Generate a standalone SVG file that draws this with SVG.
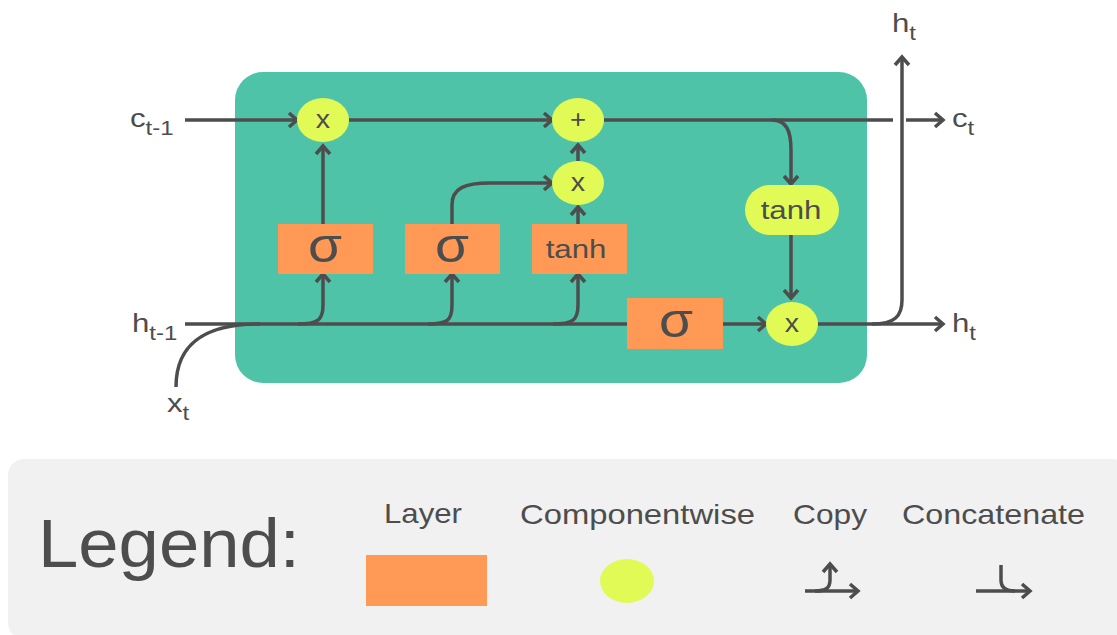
<svg xmlns="http://www.w3.org/2000/svg" width="1117" height="635" viewBox="0 0 1117 635">
<style>
.ln{fill:none;stroke:#4d4d4d;stroke-width:3.5;stroke-linecap:butt}
.arr{marker-end:url(#ah)}
.lay{fill:#ff9955}
.cw{fill:#e2fa55}
.t{font-family:"Liberation Sans",Arial,sans-serif;fill:#4d4d4d}
</style>
<defs>
<marker id="ah" markerUnits="userSpaceOnUse" markerWidth="16" markerHeight="18" refX="12" refY="9" orient="auto">
<path d="M4,2 L12,9 L4,16" fill="none" stroke="#4d4d4d" stroke-width="3.5"/>
</marker>
</defs>
<rect width="1117" height="635" fill="#ffffff"/>
<rect id="cell" x="235" y="72" width="632" height="311" rx="28" fill="#4fc3a8"/>
<rect id="legend-bg" x="8" y="459" width="1120" height="180" rx="16" fill="#f1f1f1"/>

<g id="connectors">
<path class="ln arr" d="M185,120 H297"/>
<path class="ln arr" d="M349,120 H552"/>
<path class="ln" d="M604,120 H893"/>
<path class="ln arr" d="M906,120 H943"/>
<path class="ln arr" d="M772,120 C786,120 791,130 791,150 V184"/>
<path class="ln arr" d="M791,235 V298"/>
<path class="ln arr" d="M818,324 H943"/>
<path class="ln arr" d="M872,324 C895,324 902,316 902,300 V57"/>
<path class="ln" d="M185,324 H627"/>
<path class="ln" d="M176,387 C176,340 210,324 260,324"/>
<path class="ln arr" d="M723,324 H766"/>
<path class="ln arr" d="M298,324 C318,324 323,320 323,305 V274"/>
<path class="ln arr" d="M428,324 C448,324 452,320 452,305 V274"/>
<path class="ln arr" d="M553,324 C573,324 578,320 578,305 V274"/>
<path class="ln arr" d="M323,224 V146"/>
<path class="ln arr" d="M452,224 V205 C452,188 465,183 490,183 H552"/>
<path class="ln arr" d="M578,224 V207"/>
<path class="ln arr" d="M578,161 V145"/>
</g>

<g id="n-f"><rect class="lay" x="278" y="224" width="95" height="50"/><text class="t" transform="translate(325,262) scale(1.15,1)" font-size="48" text-anchor="middle">σ</text></g>
<g id="n-i"><rect class="lay" x="405" y="224" width="95" height="50"/><text class="t" transform="translate(452,262) scale(1.15,1)" font-size="48" text-anchor="middle">σ</text></g>
<g id="n-g"><rect class="lay" x="532" y="224" width="95" height="50"/><text class="t" transform="translate(576,258) scale(1.2,1)" font-size="26" text-anchor="middle">tanh</text></g>
<g id="n-o"><rect class="lay" x="627" y="298" width="96" height="51"/><text class="t" transform="translate(676,337) scale(1.15,1)" font-size="48" text-anchor="middle">σ</text></g>
<g id="n-mul1"><ellipse class="cw" cx="323" cy="120" rx="26" ry="22"/><text class="t" transform="translate(323,128) scale(1.1,1)" font-size="26" text-anchor="middle">x</text></g>
<g id="n-add"><ellipse class="cw" cx="578" cy="120" rx="26" ry="22"/><text class="t" transform="translate(578,128) scale(1.1,1)" font-size="25" text-anchor="middle">+</text></g>
<g id="n-mul2"><ellipse class="cw" cx="578" cy="183" rx="26" ry="22"/><text class="t" transform="translate(578,191) scale(1.1,1)" font-size="26" text-anchor="middle">x</text></g>
<g id="n-tanh"><rect class="cw" x="745" y="185" width="94" height="50" rx="25"/><text class="t" transform="translate(791,219) scale(1.2,1)" font-size="26" text-anchor="middle">tanh</text></g>
<g id="n-mul3"><ellipse class="cw" cx="792" cy="324" rx="26" ry="22"/><text class="t" transform="translate(792,332) scale(1.1,1)" font-size="26" text-anchor="middle">x</text></g>

<g id="labels">
<text class="t" transform="translate(130,127) scale(1.2,1)" font-size="26">c<tspan font-size="20" dy="8">t-1</tspan></text>
<text class="t" transform="translate(132,332) scale(1.2,1)" font-size="26">h<tspan font-size="20" dy="8">t-1</tspan></text>
<text class="t" transform="translate(167,412) scale(1.2,1)" font-size="26">x<tspan font-size="20" dy="8">t</tspan></text>
<text class="t" transform="translate(952,127) scale(1.2,1)" font-size="26">c<tspan font-size="20" dy="8">t</tspan></text>
<text class="t" transform="translate(952,332) scale(1.2,1)" font-size="26">h<tspan font-size="20" dy="8">t</tspan></text>
<text class="t" transform="translate(892,32) scale(1.2,1)" font-size="26">h<tspan font-size="20" dy="8">t</tspan></text>
</g>

<g id="legend">
<text class="t" x="38" y="567" font-size="68" textLength="262" lengthAdjust="spacingAndGlyphs">Legend:</text>
<text class="t" x="384" y="523" font-size="28" textLength="78" lengthAdjust="spacingAndGlyphs">Layer</text>
<text class="t" x="520" y="524" font-size="28" textLength="235" lengthAdjust="spacingAndGlyphs">Componentwise</text>
<text class="t" x="793" y="524" font-size="28" textLength="74" lengthAdjust="spacingAndGlyphs">Copy</text>
<text class="t" x="902" y="524" font-size="28" textLength="183" lengthAdjust="spacingAndGlyphs">Concatenate</text>
<rect class="lay" x="366" y="555" width="121" height="51"/>
<ellipse class="cw" cx="627" cy="581" rx="27" ry="22"/>
<path class="ln arr" d="M805,591 H858"/>
<path class="ln arr" d="M815,591 C826,591 830,588 830,580 V564"/>
<path class="ln arr" d="M976,591 H1030"/>
<path class="ln" d="M1001,565 V580 C1001,587 1005,591 1015,591"/>
</g>
</svg>
